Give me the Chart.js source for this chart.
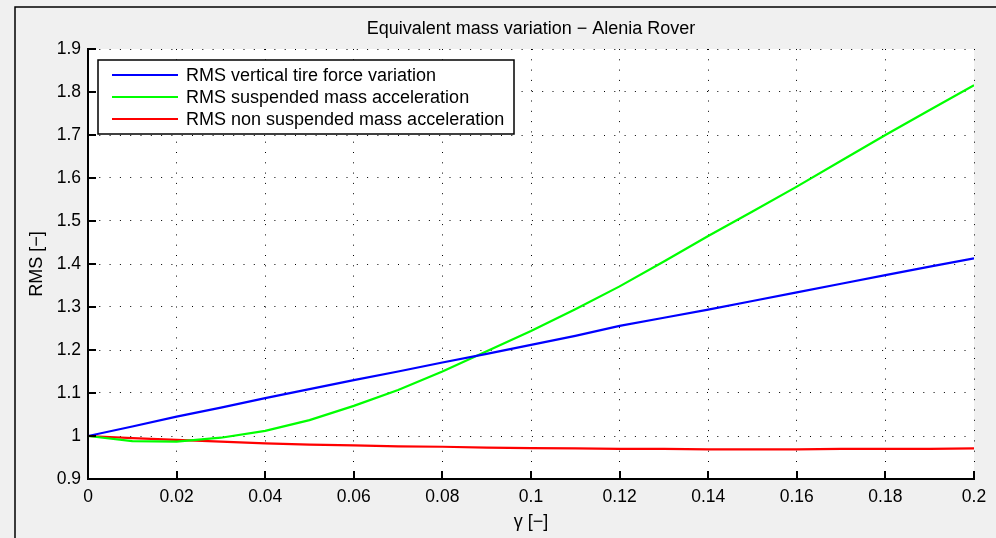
<!DOCTYPE html>
<html>
<head>
<meta charset="utf-8">
<script src="https://cdn.jsdelivr.net/npm/chart.js@4.4.1/dist/chart.umd.min.js"></script>
<style>
  html, body { margin: 0; padding: 0; background: #f0f0f0; }
  canvas { display: block; }
</style>
</head>
<body>
<canvas id="rmsChart" width="996" height="538"></canvas>
<script>
  // values
  const gamma = [0, 0.01, 0.02, 0.03, 0.04, 0.05, 0.06, 0.07, 0.08, 0.09, 0.10,
                 0.11, 0.12, 0.13, 0.14, 0.15, 0.16, 0.17, 0.18, 0.19, 0.20];
  const rmsTireForce = [1.000, 1.022, 1.045, 1.066, 1.088, 1.109, 1.130, 1.150, 1.171, 1.191, 1.212,
                        1.233, 1.256, 1.275, 1.294, 1.314, 1.334, 1.354, 1.374, 1.394, 1.413];
  const rmsSuspended = [1.000, 0.988, 0.987, 0.996, 1.012, 1.037, 1.070, 1.107, 1.150, 1.197, 1.244,
                        1.295, 1.348, 1.406, 1.465, 1.522, 1.580, 1.640, 1.700, 1.758, 1.816];
  const rmsNonSuspended = [1.000, 0.995, 0.991, 0.987, 0.983, 0.980, 0.978, 0.976, 0.975, 0.973, 0.972,
                           0.971, 0.970, 0.970, 0.969, 0.969, 0.969, 0.970, 0.970, 0.970, 0.971];

  const seriesNames = ['RMS vertical tire force variation',
                       'RMS suspended mass acceleration',
                       'RMS non suspended mass acceleration'];
  const seriesColors = ['#0000ff', '#00ff00', '#ff0000'];

  const xTicks = [0, 0.02, 0.04, 0.06, 0.08, 0.1, 0.12, 0.14, 0.16, 0.18, 0.2];
  const yTicks = [0.9, 1, 1.1, 1.2, 1.3, 1.4, 1.5, 1.6, 1.7, 1.8, 1.9];

  const chartTitle = 'Equivalent mass variation \u2212 Alenia Rover';
  const xTitle = '\u03b3 [\u2212]';
  const yTitle = 'RMS [\u2212]';

  const FONT = '"Liberation Sans", Arial, sans-serif';

  function toPoints(ys) {
    return gamma.map((g, i) => ({ x: g, y: ys[i] }));
  }

  // figure background, frame, titles, inward ticks and the legend box
  const matlabLook = {
    id: 'matlabLook',
    beforeDraw(chart) {
      const { ctx, chartArea: a } = chart;
      ctx.save();
      ctx.fillStyle = '#f0f0f0';
      ctx.fillRect(0, 0, chart.width, chart.height);
      ctx.strokeStyle = '#000';
      ctx.lineWidth = 1.5;
      ctx.beginPath();
      ctx.moveTo(15, chart.height);
      ctx.lineTo(15, 7);
      ctx.lineTo(chart.width, 7);
      ctx.stroke();
      ctx.fillStyle = '#ffffff';
      ctx.fillRect(a.left, a.top, a.right - a.left, a.bottom - a.top);
      ctx.restore();
    },
    afterDraw(chart) {
      const { ctx, chartArea: a, scales } = chart;
      ctx.save();
      // inward tick marks
      ctx.strokeStyle = '#000';
      ctx.lineWidth = 2;
      ctx.beginPath();
      yTicks.forEach(v => {
        const py = Math.round(scales.y.getPixelForValue(v));
        ctx.moveTo(a.left, py);
        ctx.lineTo(a.left + 8, py);
      });
      xTicks.forEach(v => {
        const px = Math.round(scales.x.getPixelForValue(v));
        ctx.moveTo(px, a.bottom);
        ctx.lineTo(px, a.bottom - 8);
      });
      ctx.stroke();

      // titles
      ctx.fillStyle = '#000';
      ctx.font = '18px ' + FONT;
      ctx.textAlign = 'center';
      ctx.textBaseline = 'middle';
      const cx = (a.left + a.right) / 2;
      ctx.fillText(chartTitle, cx, 29);
      ctx.fillText(xTitle, cx, 522);
      ctx.save();
      ctx.translate(37, (a.top + a.bottom) / 2);
      ctx.rotate(-Math.PI / 2);
      ctx.fillText(yTitle, 0, 0);
      ctx.restore();

      // legend
      const lx = 98, ly = 60, lw = 416, lh = 74;
      ctx.fillStyle = '#fff';
      ctx.fillRect(lx, ly, lw, lh);
      ctx.strokeStyle = '#000';
      ctx.lineWidth = 1.5;
      ctx.strokeRect(lx, ly, lw, lh);
      ctx.textAlign = 'left';
      chart.data.datasets.forEach((ds, i) => {
        const ry = 75 + 22 * i;
        ctx.strokeStyle = ds.borderColor;
        ctx.lineWidth = 2;
        ctx.beginPath();
        ctx.moveTo(112, ry);
        ctx.lineTo(178, ry);
        ctx.stroke();
        ctx.fillStyle = '#000';
        ctx.fillText(ds.label, 186, ry + 1);
      });
      ctx.restore();
    }
  };

  new Chart(document.getElementById('rmsChart').getContext('2d'), {
    type: 'line',
    data: {
      datasets: [
        { label: seriesNames[0], data: toPoints(rmsTireForce), borderColor: seriesColors[0] },
        { label: seriesNames[1], data: toPoints(rmsSuspended), borderColor: seriesColors[1] },
        { label: seriesNames[2], data: toPoints(rmsNonSuspended), borderColor: seriesColors[2] }
      ]
    },
    options: {
      responsive: false,
      animation: false,
      devicePixelRatio: 1,
      layout: { padding: { top: 49, right: 22, left: 0, bottom: 0 } },
      elements: {
        line: { borderWidth: 2.2, tension: 0, fill: false },
        point: { radius: 0, hoverRadius: 0 }
      },
      plugins: {
        legend: { display: false },
        title: { display: false },
        tooltip: { enabled: false }
      },
      scales: {
        x: {
          type: 'linear',
          min: 0,
          max: 0.2,
          afterBuildTicks: s => { s.ticks = xTicks.map(v => ({ value: v })); },
          afterFit: s => { s.height = 59; },
          grid: { color: '#000', lineWidth: 1, drawTicks: false },
          border: { display: true, color: '#000', width: 2, dash: [1, 9.3] },
          ticks: {
            color: '#000',
            padding: 8,
            maxRotation: 0,
            autoSkip: false,
            font: { family: FONT, size: 17.5 },
            callback: v => String(Number(v.toFixed(2)))
          }
        },
        y: {
          type: 'linear',
          min: 0.9,
          max: 1.9,
          afterBuildTicks: s => { s.ticks = yTicks.map(v => ({ value: v })); },
          afterFit: s => { s.width = 88; },
          grid: { color: '#000', lineWidth: 1, drawTicks: false },
          border: { display: true, color: '#000', width: 2, dash: [1, 9.3] },
          ticks: {
            color: '#000',
            padding: 7,
            autoSkip: false,
            font: { family: FONT, size: 17.5 },
            callback: v => String(Number(v.toFixed(1)))
          }
        }
      }
    },
    plugins: [matlabLook]
  });
</script>
</body>
</html>
